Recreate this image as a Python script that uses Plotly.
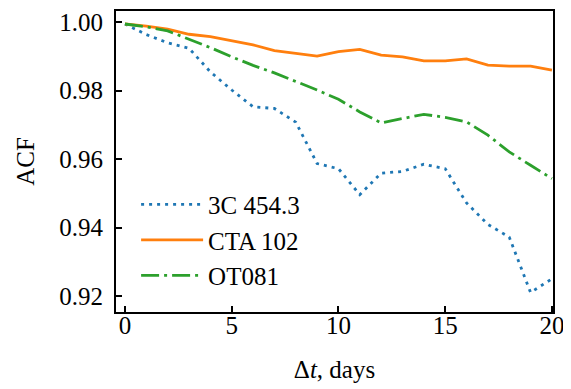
import plotly.graph_objects as go

days = list(range(21))
acf_3c454 = [0.9995, 0.9964, 0.9940, 0.9924, 0.9855, 0.9802, 0.9753, 0.9748, 0.9708, 0.9587,
             0.9572, 0.9496, 0.9559, 0.9564, 0.9585, 0.9572, 0.9472, 0.9409, 0.9372, 0.9210, 0.9250]
acf_cta102 = [0.9995, 0.9989, 0.9980, 0.9965, 0.9958, 0.9946, 0.9934, 0.9917, 0.9909, 0.9901,
              0.9914, 0.9921, 0.9904, 0.9899, 0.9887, 0.9887, 0.9893, 0.9875, 0.9872, 0.9872, 0.9860]
acf_ot081 = [0.9995, 0.9987, 0.9975, 0.9951, 0.9926, 0.9899, 0.9874, 0.9852, 0.9828, 0.9802,
             0.9775, 0.9738, 0.9706, 0.9719, 0.9731, 0.9722, 0.9709, 0.9670, 0.9621, 0.9582, 0.9543]
names = ["3C 454.3", "CTA 102", "OT081"]
x_ticks = [0, 5, 10, 15, 20]
y_ticks = [0.92, 0.94, 0.96, 0.98, 1.00]

FONT = "Liberation Serif, Times New Roman, Times, serif"
fig = go.Figure()
fig.add_trace(go.Scatter(x=days, y=acf_3c454, name=names[0], mode="lines",
                         line=dict(color="#1f77b4", width=2.8, dash="3px,5px")))
fig.add_trace(go.Scatter(x=days, y=acf_cta102, name=names[1], mode="lines",
                         line=dict(color="#ff7f0e", width=2.8)))
fig.add_trace(go.Scatter(x=days, y=acf_ot081, name=names[2], mode="lines",
                         line=dict(color="#2ca02c", width=2.8, dash="18px,5px,3px,5px")))

# page body has an 8px default margin; figure sized to fit the 571x389 window
fig.update_layout(
    width=563, height=381,
    margin=dict(l=108, r=18, t=3, b=77, autoexpand=False),
    paper_bgcolor="white", plot_bgcolor="white",
    font=dict(family=FONT, size=25, color="black"),
    legend=dict(x=0.046, y=0.433, xanchor="left", yanchor="top",
                bgcolor="rgba(0,0,0,0)", font=dict(family=FONT, size=25),
                tracegroupgap=0, itemwidth=62),
    showlegend=True,
)
fig.update_xaxes(range=[-0.42, 20.05], tickvals=x_ticks, ticks="inside", ticklen=6,
                 tickwidth=1.5, tickcolor="black", showline=True, linecolor="black",
                 linewidth=2, mirror=True, showgrid=False, zeroline=False, automargin=False,
                 title=dict(text="Δ<i>t</i>, days", font=dict(family=FONT, size=25), standoff=22),
                 tickfont=dict(family=FONT, size=25), ticklabelstandoff=-10)
fig.update_yaxes(range=[0.9153, 1.0033], tickvals=y_ticks, tickformat=".2f", ticks="inside",
                 ticklen=6, tickwidth=1.5, tickcolor="black", showline=True, linecolor="black",
                 linewidth=2, mirror=True, showgrid=False, zeroline=False, automargin=False,
                 title=dict(text="ACF", font=dict(family=FONT, size=25), standoff=18),
                 tickfont=dict(family=FONT, size=25), ticklabelstandoff=6)

fig.write_html("out.html")
